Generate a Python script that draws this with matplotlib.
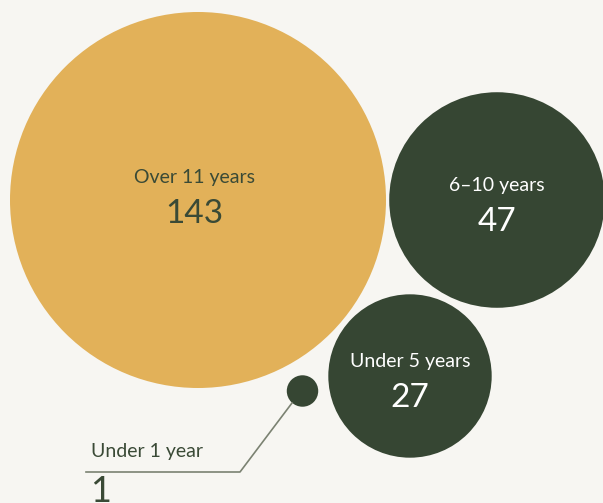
import numpy as np
import matplotlib
matplotlib.use("Agg")
from matplotlib import pyplot as plt
from matplotlib.patches import Circle

# data
labels = ["Over 11 years", "6–10 years", "Under 5 years", "Under 1 year"]
values = [143, 47, 27, 1]

# layout (pixel space, y down)
cx = [198, 497, 410, 302.5]
cy = [200, 200, 376, 391]
colors = ["#e2b159", "#364633", "#364633", "#364633"]
text_colors = ["#3a4a36", "#ffffff", "#ffffff", "#3a4a36"]

bg = "#f7f6f2"
k = 188 / np.sqrt(143)

plt.rcParams['font.family'] = ['Lato', 'DejaVu Sans']

fig = plt.figure(figsize=(6.03, 5.03), dpi=100, facecolor=bg)
ax = fig.add_axes([0, 0, 1, 1])
ax.set_facecolor(bg)
ax.set_xlim(0, 603)
ax.set_ylim(503, 0)
ax.set_aspect('equal')
ax.axis('off')

for i in range(len(values)):
    r = k * np.sqrt(values[i])
    ax.add_patch(Circle((cx[i], cy[i]), r, facecolor=colors[i], edgecolor='none'))
    if i < 3:
        ax.text(cx[i] - 4 if i == 0 else cx[i], cy[i] - 23 if i == 0 else cy[i] - 14,
                labels[i], ha='center', va='center', fontsize=14,
                color=text_colors[i])
        ax.text(cx[i] - 4 if i == 0 else cx[i], cy[i] + 14 if i == 0 else cy[i] + 22,
                str(values[i]), ha='center', va='center', fontsize=24,
                color=text_colors[i])

# leader for the smallest bubble
ax.plot([292, 240, 86], [403, 472, 472], color="#7b8272", lw=1.2)
ax.text(91, 452, labels[3], ha='left', va='center', fontsize=14,
        color=text_colors[3])
ax.text(90, 492, str(values[3]), ha='left', va='center', fontsize=26,
        color=text_colors[3])

fig.savefig("out.png", dpi=100, facecolor=bg)
